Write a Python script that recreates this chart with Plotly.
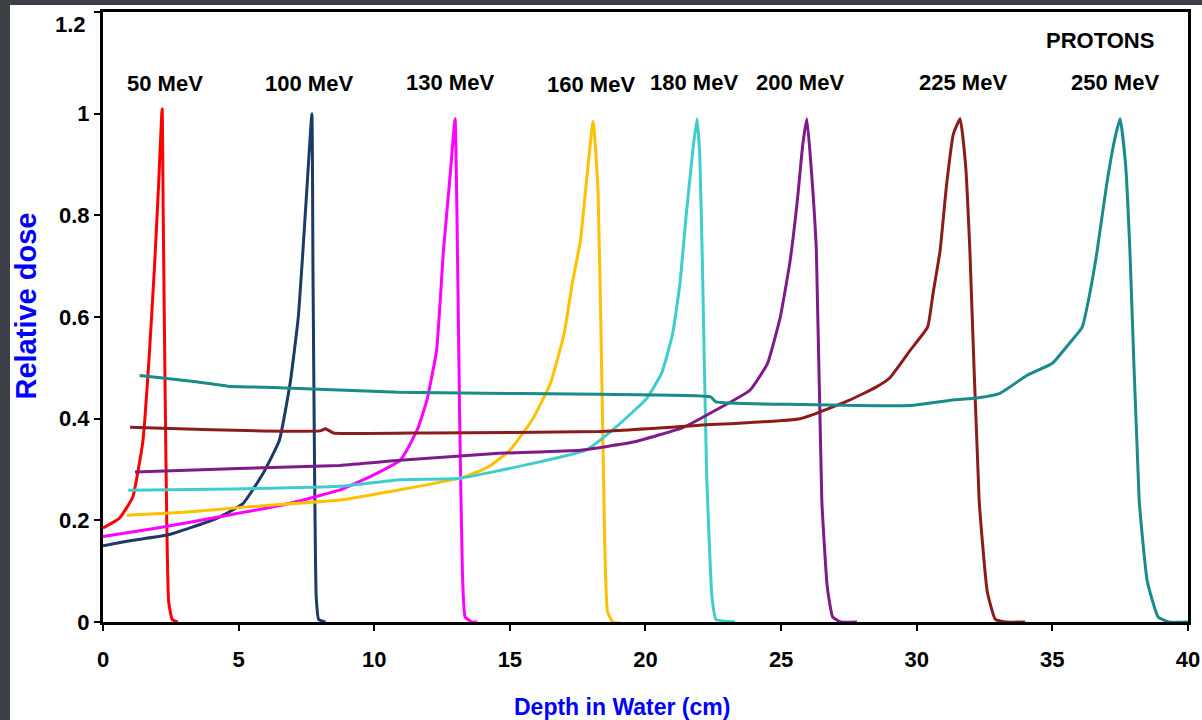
import plotly.graph_objects as go

# depth (cm) / relative dose
x_50 = [0, 0.6, 1.1, 1.36, 1.48, 1.7, 1.9, 2.05, 2.18, 2.22, 2.28, 2.35, 2.42, 2.55, 2.75]
y_50 = [0.185, 0.204, 0.246, 0.318, 0.36, 0.52, 0.7, 0.86, 1.01, 0.8, 0.5, 0.2, 0.04, 0.005, 0.0]

x_100 = [0, 1, 2.36, 4.2, 5.16, 5.9, 6.5, 6.9, 7.2, 7.37, 7.55, 7.7, 7.74, 7.8, 7.86, 7.95, 8.2]
y_100 = [0.15, 0.16, 0.171, 0.204, 0.233, 0.292, 0.357, 0.47, 0.6, 0.73, 0.88, 1.0, 0.7, 0.3, 0.05, 0.005, 0.0]

x_130 = [0, 2, 4.3, 6.6, 8.74, 10.0, 10.95, 11.2, 11.6, 11.94, 12.3, 12.55, 12.8, 12.98, 13.05, 13.15, 13.25, 13.35, 13.6, 13.8]
y_130 = [0.168, 0.185, 0.207, 0.23, 0.26, 0.29, 0.318, 0.338, 0.38, 0.436, 0.535, 0.73, 0.88, 0.99, 0.8, 0.4, 0.1, 0.01, 0.0, 0.0]

x_160 = [0.88, 3, 5, 7, 8.74, 10.95, 13.3, 14.2, 15.0, 15.85, 16.5, 17.0, 17.3, 17.6, 17.85, 18.07, 18.25, 18.4, 18.5, 18.6, 18.8, 19.4]
y_160 = [0.21, 0.216, 0.225, 0.233, 0.24, 0.26, 0.285, 0.305, 0.338, 0.40, 0.47, 0.567, 0.666, 0.75, 0.88, 0.985, 0.85, 0.45, 0.15, 0.02, 0.0, -0.005]

x_180 = [0.93, 4, 8.74, 10.95, 13.16, 15.85, 17.8, 18.9, 20.05, 20.6, 21.0, 21.27, 21.5, 21.75, 21.9, 22.0, 22.1, 22.25, 22.45, 22.6, 23.3]
y_180 = [0.259, 0.261, 0.267, 0.28, 0.283, 0.312, 0.338, 0.383, 0.44, 0.49, 0.567, 0.666, 0.8, 0.93, 0.99, 0.92, 0.7, 0.3, 0.05, 0.005, 0.0]

x_200 = [1.18, 5, 8.74, 10.95, 14.6, 17.6, 19.55, 21.4, 22.6, 23.85, 24.5, 24.97, 25.33, 25.6, 25.8, 25.95, 26.1, 26.3, 26.5, 26.7, 26.9, 27.2, 27.8]
y_200 = [0.295, 0.302, 0.308, 0.318, 0.332, 0.338, 0.354, 0.383, 0.417, 0.456, 0.509, 0.60, 0.71, 0.83, 0.94, 0.99, 0.9, 0.73, 0.24, 0.07, 0.01, 0.0, 0.0]

x_225 = [1.0, 4, 8.0, 8.2, 8.5, 12, 18.3, 22, 25.7, 27.5, 28.5, 29.0, 29.75, 30.4, 30.6, 30.86, 31.1, 31.35, 31.6, 31.8, 31.96, 32.3, 32.6, 32.9, 33.3, 34.0]
y_225 = [0.383, 0.378, 0.376, 0.38, 0.372, 0.372, 0.375, 0.387, 0.40, 0.436, 0.462, 0.48, 0.534, 0.58, 0.646, 0.73, 0.86, 0.96, 0.99, 0.9, 0.73, 0.24, 0.06, 0.005, 0.0, 0.0]

x_250 = [1.35, 2.2, 3.5, 4.6, 6, 10.9, 12.4, 18.3, 22.4, 22.6, 25.7, 29.75, 31.2, 32.1, 33.07, 34.06, 35.0, 35.5, 36.1, 36.4, 36.65, 37.0, 37.3, 37.5, 37.7, 37.86, 38.2, 38.5, 38.9, 39.3, 40]
y_250 = [0.485, 0.48, 0.472, 0.464, 0.462, 0.452, 0.451, 0.448, 0.443, 0.433, 0.428, 0.426, 0.436, 0.44, 0.45, 0.485, 0.509, 0.54, 0.58, 0.652, 0.73, 0.86, 0.95, 0.99, 0.9, 0.73, 0.24, 0.08, 0.01, 0.0, 0.0]

labels = ['50 MeV', '100 MeV', '130 MeV', '160 MeV', '180 MeV', '200 MeV', '225 MeV', '250 MeV']
label_x = [2.29, 7.6, 12.8, 18.0, 21.8, 25.7, 31.7, 37.3]
label_y = [1.06, 1.06, 1.062, 1.057, 1.062, 1.062, 1.062, 1.062]

y_ticks = [0, 0.2, 0.4, 0.6, 0.8, 1.0, 1.2]
y_ticktext = ['0', '0.2', '0.4', '0.6', '0.8', '1', '']   # top label is set lower, as in the original

colors = ['#ff0000', '#1b3a66', '#ff00ff', '#ffc000', '#40cccc', '#7f1a8a', '#8c1c1c', '#1a8a8a']
series = [(x_50, y_50), (x_100, y_100), (x_130, y_130), (x_160, y_160),
          (x_180, y_180), (x_200, y_200), (x_225, y_225), (x_250, y_250)]

font = 'Liberation Sans, Arial, sans-serif'

fig = go.Figure()
for (xs, ys), name, c in zip(series, labels, colors):
    fig.add_trace(go.Scatter(x=xs, y=ys, mode='lines', name=name,
                             line=dict(color=c, width=3, shape='spline', smoothing=0.4),
                             showlegend=False))

for name, lx, ly in zip(labels, label_x, label_y):
    fig.add_annotation(x=lx, y=ly, text=name, showarrow=False,
                       font=dict(family=font, size=22, color='black', weight='bold'))

fig.add_annotation(x=36.75, y=1.145, text='PROTONS', showarrow=False,
                   font=dict(family=font, size=22, color='black', weight='bold'))

# the "1.2" label sits a little below its tick
fig.add_annotation(xref='paper', yref='paper', x=-0.0135, y=0.979, text='1.2',
                   showarrow=False, xanchor='right', yanchor='middle',
                   font=dict(family=font, size=22, color='black', weight='bold'))

# axis titles placed by hand
fig.add_annotation(xref='paper', yref='paper', x=-0.0705, y=0.518, text='Relative dose',
                   textangle=-90, showarrow=False, xanchor='center', yanchor='middle',
                   font=dict(family=font, size=29, color='#0000ff', weight='bold'))
fig.add_annotation(xref='paper', yref='paper', x=0.478, y=-0.139, text='Depth in Water (cm)',
                   showarrow=False, xanchor='center', yanchor='middle',
                   font=dict(family=font, size=23, color='#0000ff', weight='bold'))

# white card over the dark backdrop
fig.add_shape(type='rect', xref='paper', yref='paper', x0=-0.0857, x1=1.02, y0=-0.17, y1=1.0115,
              fillcolor='white', line=dict(width=0), layer='below')

fig.update_xaxes(range=[0, 40.001], dtick=5, tick0=0, showgrid=False, zeroline=False,
                 showline=True, linecolor='black', linewidth=3, mirror=True,
                 ticks='outside', ticklen=6, tickwidth=2, tickcolor='black',
                 ticklabelstandoff=10, automargin=False, ticklabeloverflow='allow',
                 tickfont=dict(family=font, size=22, color='black', weight='bold'))
fig.update_yaxes(range=[0, 1.2001], tickvals=y_ticks, ticktext=y_ticktext,
                 showgrid=False, zeroline=False,
                 showline=True, linecolor='black', linewidth=3, mirror=True,
                 ticks='outside', ticklen=6, tickwidth=2, tickcolor='black',
                 automargin=False, ticklabeloverflow='allow',
                 tickfont=dict(family=font, size=22, color='black', weight='bold'))

fig.update_layout(width=1202, height=720, autosize=False,
                  margin=dict(l=103, r=14, t=12, b=98),
                  paper_bgcolor='#3c3f46', plot_bgcolor='white')

fig.write_html("out.html", config={'displayModeBar': False},
               post_script="document.body.style.margin='0';")
